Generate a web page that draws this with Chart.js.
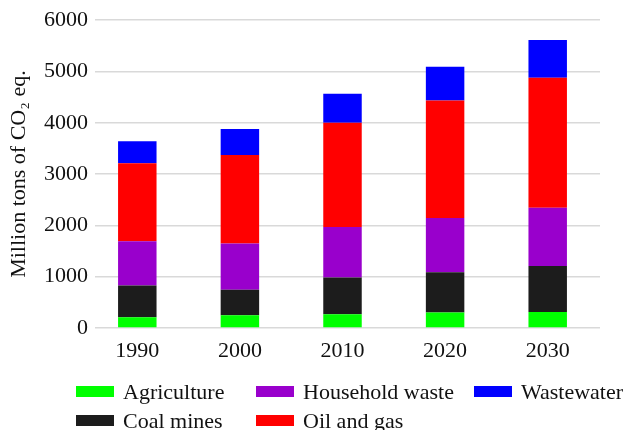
<!DOCTYPE html>
<html lang="en">
  <head>
    <meta charset="UTF-8" />
    <title>Methane emissions by source</title>
    <style>
      body {
        margin: 0;
        background: #fff;
        font-family: "Liberation Serif", serif;
      }
      #wrap {
        position: relative;
        width: 625px;
        height: 430px;
      }
      #legend {
        position: absolute;
        left: 76px;
        top: 377px;
        display: grid;
        grid-template-rows: 29px 29px;
        grid-template-columns: 180px 218px auto;
        grid-auto-flow: column;
        font-size: 22px;
        color: #111;
      }
      .item {
        display: flex;
        align-items: center;
        white-space: nowrap;
      }
      .box {
        width: 38px;
        height: 11px;
        margin-right: 9px;
      }
    </style>
    <script src="https://cdn.jsdelivr.net/npm/chart.js"></script>
  </head>
  <body>
    <div id="wrap">
      <canvas id="chart" width="625" height="430"></canvas>
      <div id="legend"></div>
    </div>

    <script>
      // data (million tons CO2 eq.)
      const years = ["1990", "2000", "2010", "2020", "2030"];
      const sources = ["Agriculture", "Coal mines", "Household waste", "Oil and gas", "Wastewater"];
      const colors = ["#00ff00", "#1c1c1c", "#9900cc", "#ff0000", "#0000ff"];

      const agriculture = [210, 250, 270, 300, 310];
      const coalMines = [620, 495, 715, 785, 900];
      const householdWaste = [860, 900, 985, 1060, 1135];
      const oilAndGas = [1520, 1725, 2030, 2290, 2535];
      const wastewater = [430, 510, 565, 660, 735];

      const yTicks = [0, 1000, 2000, 3000, 4000, 5000, 6000];

      const series = [agriculture, coalMines, householdWaste, oilAndGas, wastewater];
      const font = { family: "'Liberation Serif', serif", size: 22 };

      // widen the category range a little, the original bars sit slightly wider apart than the grid
      const spreadBars = {
        id: "spreadBars",
        afterLayout(chart) {
          const x = chart.scales.x;
          x.left = chart.chartArea.left - 9;
          x.right = chart.chartArea.right - 1;
          x.width = x.right - x.left;
          x.configure();
        },
      };

      new Chart(document.getElementById("chart"), {
        type: "bar",
        data: {
          labels: years,
          datasets: series.map((vals, i) => ({
            label: sources[i],
            data: vals,
            backgroundColor: colors[i],
            borderWidth: 0,
            barPercentage: 0.375,
            categoryPercentage: 1,
          })),
        },
        options: {
          responsive: false,
          animation: false,
          layout: { padding: { top: 19, right: 25, bottom: 0, left: 0 } },
          plugins: {
            legend: { display: false },
            tooltip: { enabled: false },
          },
          scales: {
            x: {
              stacked: true,
              grid: { display: false, drawTicks: false },
              border: { display: false },
              ticks: { color: "#111", font: font, padding: 10 },
              afterFit: (s) => { s.height = 102; },
            },
            y: {
              stacked: true,
              min: yTicks[0],
              max: yTicks[yTicks.length - 1],
              afterBuildTicks: (s) => { s.ticks = yTicks.map((v) => ({ value: v })); },
              grid: { color: "#d9d9d9", lineWidth: 1.5, drawTicks: false },
              border: { display: false },
              ticks: {
                color: "#111",
                font: font,
                padding: 7,
                callback: (v) => String(v),
              },
              title: {
                display: true,
                text: "Million tons of CO\u2082 eq.",
                color: "#111",
                font: font,
                padding: { top: 6, bottom: 0 },
              },
              afterFit: (s) => { s.width = 95; },
            },
          },
        },
        plugins: [spreadBars],
      });

      // legend laid out in columns like the original
      const legend = document.getElementById("legend");
      sources.forEach((name, i) => {
        const item = document.createElement("div");
        item.className = "item";
        const box = document.createElement("span");
        box.className = "box";
        box.style.background = colors[i];
        item.appendChild(box);
        item.appendChild(document.createTextNode(name));
        legend.appendChild(item);
      });
    </script>
  </body>
</html>
